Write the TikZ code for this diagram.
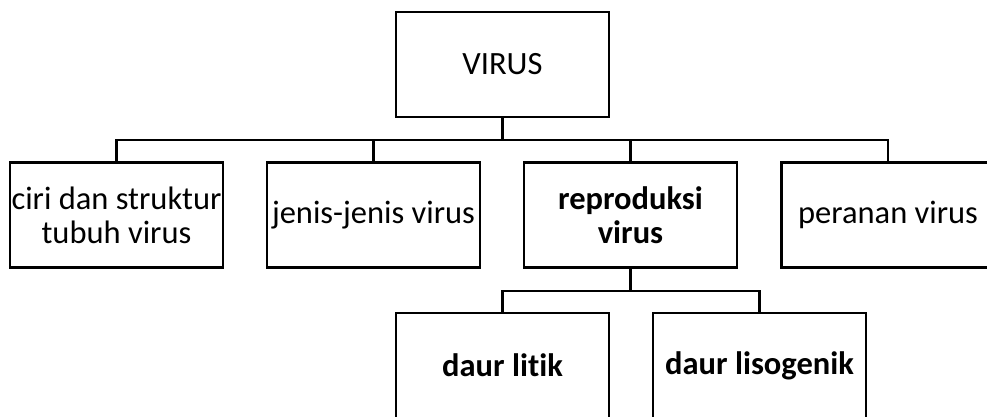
\documentclass[tikz,border=0pt]{standalone}
\usepackage{fontspec}
\setmainfont[Ligatures=NoCommon]{Carlito}
\begin{document}
\begin{tikzpicture}[x=1pt,y=1pt,
  box/.style={draw, line width=2.6pt, minimum width=213pt, minimum height=105pt,
    align=center, inner sep=0pt, font=\fontsize{32.5}{34}\selectfont},
  conn/.style={line width=2.6pt}]
\useasboundingbox (0,0) rectangle (987,-416);
\clip (0,0) rectangle (987,-416);
\node[box] (virus) at (502.5,-64.5) {VIRUS};
\node[box] (b1) at (116.5,-215) {ciri dan struktur\\tubuh virus};
\node[box] (b2) at (373.5,-215) {jenis-jenis virus};
\node[box] (b3) at (630.5,-215) {\textbf{reproduksi}\\\textbf{virus}};
\node[box] (b4) at (888,-215) {peranan virus};
\node[box] (b5) at (502.5,-365.5) {\textbf{daur litik}};
\node[box] (b6) at (759.5,-365.5) {\textbf{daur lisogenik}};
\coordinate (bus) at (502.5,-140);
\coordinate (bus2) at (630.5,-291);
\draw[conn] (virus.south) -- (bus);
\draw[conn] (b1.north) -- (b1.north |- bus) -- (b4.north |- bus) -- (b4.north);
\draw[conn] (b2.north) -- (b2.north |- bus);
\draw[conn] (b3.north) -- (b3.north |- bus);
\draw[conn] (b3.south) -- (bus2);
\draw[conn] (b5.north) -- (b5.north |- bus2) -- (b6.north |- bus2) -- (b6.north);
\end{tikzpicture}
\end{document}
